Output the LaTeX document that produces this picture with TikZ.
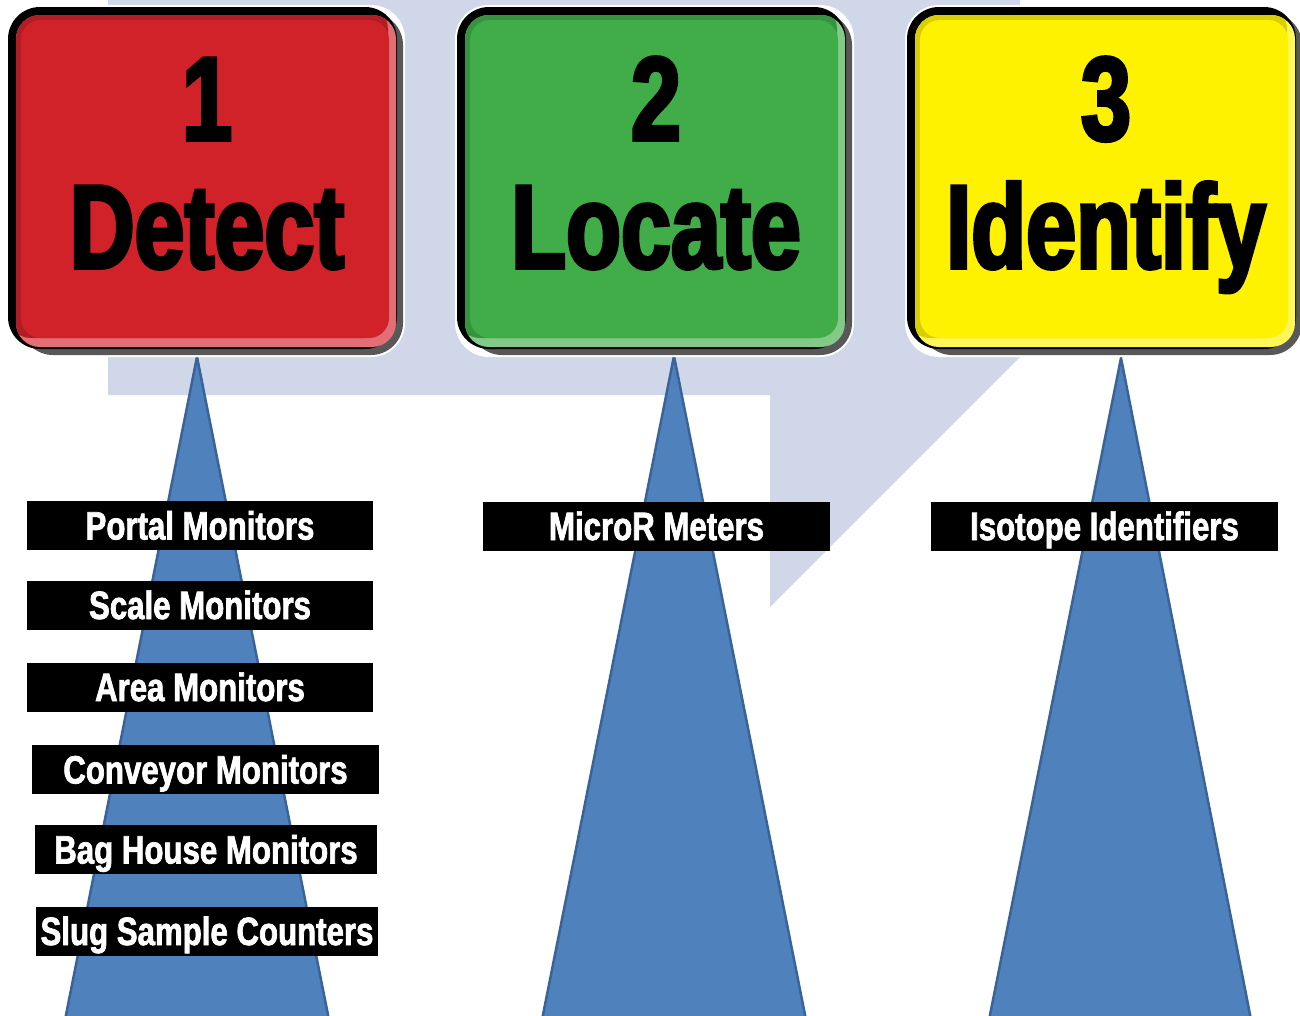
\documentclass[tikz,border=0pt]{standalone}
\usepackage{fontspec}
\newfontfamily\bigfnt[FakeStretch=0.755,FakeBold=3]{Liberation Sans}
\newfontfamily\lblfnt[FakeStretch=0.79,FakeBold=1.8]{Liberation Sans}
\definecolor{bggray}{RGB}{207,215,232}
\definecolor{tri}{RGB}{79,129,189}
\definecolor{triedge}{RGB}{58,100,152}
\definecolor{sred}{RGB}{209,34,42}
\definecolor{sgreen}{RGB}{64,173,73}
\definecolor{syellow}{RGB}{255,242,0}
\definecolor{framegray}{RGB}{88,88,88}
\tikzset{
  lbl/.style={fill=black, text=white, inner sep=0pt, minimum width=346pt, minimum height=49pt,
    text height=28pt, text depth=0pt, font={\lblfnt\bfseries\fontsize{39.5}{39.5}\selectfont}},
  bigtxt/.style={inner sep=0pt, anchor=base, text=black, font={\bigfnt\bfseries\fontsize{119}{119}\selectfont}},
  triangle/.style={fill=tri, draw=triedge, line width=2.5pt, line join=miter},
  frame/.style={fill=black, rounded corners=32pt, minimum width=389pt, minimum height=342pt, inner sep=0pt}
}
% #1 name, #2 left x, #3 colour, #4 number, #5 word
\newcommand{\stagebox}[5]{%
  \fill[white, rounded corners=34pt] (#2-2,5) rectangle (#2+397,357);
  \fill[framegray, rounded corners=32pt] (#2+13,13) rectangle (#2+395,355);
  \node[frame] (#1) at (#2+194.5,178) {};
  \begin{scope}
    \clip[rounded corners=24pt] (#2+8,15) rectangle (#2+388,347);
    \fill[#3!65!white] (#2,0) rectangle (#2+400,360);
    \fill[#3!85!black, rounded corners=24pt] (#2-1,5) rectangle (#2+380,338);
    \fill[#3, rounded corners=20pt] (#2+13,20) rectangle (#2+381,338);
  \end{scope}
  \node[bigtxt] (#1num) at (#2+199,140) {#4};
  \node[bigtxt] (#1word) at (#2+199,268) {#5};
}
\begin{document}
\begin{tikzpicture}[x=1pt,y=-1pt]
\useasboundingbox (0,0) rectangle (1300,1015);
\clip (0,0) rectangle (1300,1015);
\fill[white] (0,0) rectangle (1300,1015);
% background bent arrow
\fill[bggray] (108,0) -- (1020,0) -- (1020,357) -- (770,607) -- (770,395) -- (108,395) -- cycle;
% triangles
\coordinate (t1) at (197,357);
\coordinate (t2) at (674,356);
\coordinate (t3) at (1121,358);
\draw[triangle] (t1) -- (333,1040) -- (61,1040) -- cycle;
\draw[triangle] (t2) -- (810,1040) -- (538,1040) -- cycle;
\draw[triangle] (t3) -- (1255,1040) -- (985,1040) -- cycle;
% stage boxes
\stagebox{detect}{8}{sred}{1}{Detect}
\stagebox{locate}{457}{sgreen}{2}{Locate}
\stagebox{identify}{907}{syellow}{3}{Identify}
% labels
\node[lbl] (portal) at (200,525.5) {Portal Monitors};
\node[lbl] (scale) at (200,605) {Scale Monitors};
\node[lbl] (area) at (200,687) {Area Monitors};
\node[lbl, minimum width=347pt] (conveyor) at (205.5,769.5) {Conveyor Monitors};
\node[lbl, minimum width=342pt] (baghouse) at (206,849.5) {Bag House Monitors};
\node[lbl, minimum width=342pt] (slug) at (207,931) {Slug Sample Counters};
\node[lbl, minimum width=347pt] (micror) at (656.5,526) {MicroR Meters};
\node[lbl, minimum width=347pt] (isotope) at (1104.5,526) {Isotope Identifiers};
\end{tikzpicture}
\end{document}
